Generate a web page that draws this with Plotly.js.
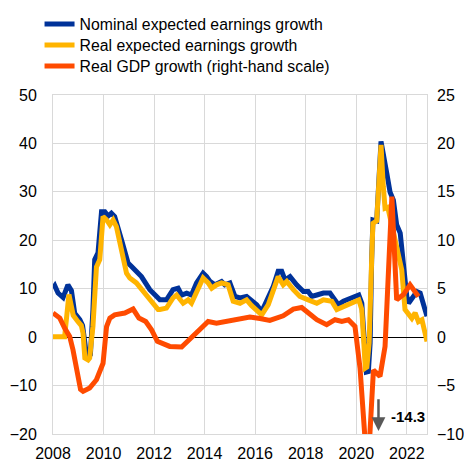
<!DOCTYPE html>
<html>
<head>
<meta charset="utf-8">
<script src="https://cdn.plot.ly/plotly-3.0.1.min.js"></script>
<style>html,body{margin:0;padding:0;background:#fff;}#chart{width:464px;height:461px;}</style>
</head>
<body>
<div id="chart"></div>
<script>
// Nominal expected earnings growth (left scale, %)
const nominalX = [2008.0,2008.07,2008.2,2008.4,2008.59,2008.73,2008.86,2009.06,2009.17,2009.25,2009.32,2009.4,2009.48,2009.58,2009.65,2009.78,2009.92,2010.05,2010.18,2010.31,2010.44,2010.71,2010.97,2011.11,2011.5,2011.83,2012.16,2012.23,2012.49,2012.75,2012.95,2013.09,2013.29,2013.48,2013.68,2013.94,2014.08,2014.21,2014.41,2014.67,2014.8,2015.0,2015.2,2015.4,2015.66,2015.86,2016.06,2016.26,2016.46,2016.72,2016.91,2017.05,2017.18,2017.38,2017.64,2017.91,2018.1,2018.24,2018.44,2018.7,2018.96,2019.16,2019.29,2019.49,2019.76,2020.02,2020.1,2020.22,2020.35,2020.4,2020.48,2020.55,2020.61,2020.66,2020.81,2020.98,2021.21,2021.34,2021.47,2021.6,2021.74,2021.87,2022.0,2022.07,2022.2,2022.4,2022.53,2022.66,2022.8];
const nominalY = [10.1,10.6,9.1,8.2,10.8,9.6,4.9,3.6,2.4,-0.5,-3.5,-4.2,-3.6,5.7,16.0,17.4,25.9,25.9,25.0,25.6,24.9,20.1,15.3,14.6,12.5,9.8,7.9,7.7,7.7,9.8,10.1,8.7,9.1,8.7,11.2,13.2,12.5,11.5,10.8,11.5,10.8,11.2,8.4,8.1,8.4,7.7,6.7,5.3,7.7,10.5,13.6,13.6,11.8,12.5,10.8,9.4,9.4,8.4,8.7,9.1,9.1,7.4,6.7,7.4,8.1,8.7,8.7,7.0,-1.2,-7.2,-7.1,-1.2,16.0,24.2,24.0,40.4,33.8,29.9,28.3,23.2,21.5,14.6,8.4,7.0,8.1,9.4,9.1,7.0,4.3];

// Real expected earnings growth (left scale, %)
const realX = [2008.0,2008.46,2008.63,2008.8,2008.99,2009.12,2009.19,2009.26,2009.39,2009.45,2009.58,2009.72,2009.85,2009.98,2010.12,2010.25,2010.38,2010.51,2010.91,2011.04,2011.3,2011.83,2012.16,2012.23,2012.49,2012.75,2012.89,2013.15,2013.35,2013.48,2013.68,2013.94,2014.14,2014.28,2014.47,2014.67,2014.93,2015.13,2015.4,2015.66,2015.86,2016.12,2016.26,2016.52,2016.72,2016.91,2017.11,2017.25,2017.51,2017.77,2018.1,2018.44,2018.7,2019.03,2019.23,2019.49,2019.76,2020.02,2020.1,2020.22,2020.28,2020.36,2020.42,2020.51,2020.61,2020.66,2020.81,2020.98,2021.07,2021.14,2021.25,2021.42,2021.55,2021.74,2021.8,2021.93,2022.07,2022.2,2022.33,2022.46,2022.6,2022.73,2022.8];
const realY = [0.1,0.1,8.8,4.5,3.2,2.4,0.8,-4.3,-4.7,-4.3,2.2,14.5,16.0,24.9,24.2,23.2,24.2,22.8,13.2,12.2,11.2,7.7,5.7,5.7,6.0,8.1,8.7,7.0,7.7,7.0,9.4,12.2,11.2,10.1,10.8,11.2,10.8,7.4,7.0,7.7,6.5,5.3,4.6,6.7,9.4,12.5,10.8,11.5,9.8,8.4,7.7,7.0,7.7,7.4,5.7,6.3,7.0,7.7,7.7,5.7,-1.2,-6.4,-6.2,-1.2,16.0,23.5,24.0,39.7,31.1,26.6,26.8,22.8,20.4,15.5,13.9,5.7,4.6,3.9,5.0,3.2,3.6,-0.2,-0.9];

// Real GDP growth (right-hand scale, %)
const gdpX = [2008.0,2008.27,2008.46,2008.66,2008.79,2008.93,2009.09,2009.19,2009.45,2009.72,2009.98,2010.12,2010.25,2010.44,2010.84,2011.17,2011.4,2011.67,2011.9,2012.13,2012.62,2013.09,2013.55,2014.14,2014.47,2015.27,2015.79,2016.19,2016.58,2017.11,2017.51,2017.84,2018.1,2018.44,2018.83,2019.16,2019.43,2019.69,2019.95,2020.15,2020.45,2020.68,2020.94,2021.14,2021.41,2021.6,2021.87,2022.13,2022.46];
const gdpY = [2.5,1.97,0.94,0.07,-1.3,-3.4,-5.4,-5.6,-5.25,-4.4,-2.7,1.1,1.97,2.3,2.49,2.9,1.97,1.62,0.76,-0.44,-0.96,-1.02,0.07,1.62,1.45,1.87,2.07,1.92,1.72,2.2,2.9,3.06,2.49,1.8,1.28,1.8,1.62,1.8,1.1,-3.2,-14.3,-3.4,-4.05,-0.96,14.5,3.86,4.4,5.4,4.2];

const xTicks = [2008,2010,2012,2014,2016,2018,2020,2022];
const seriesNames = ['Nominal expected earnings growth','Real expected earnings growth','Real GDP growth (right-hand scale)'];
const troughLabel = '-14.3';

const FONT = 'Arial, "Liberation Sans", sans-serif';
const traces = [
  {x: nominalX, y: nominalY, name: seriesNames[0], type: 'scatter', mode: 'lines',
   line: {color: '#003299', width: 5}, yaxis: 'y', legend: 'legend'},
  {x: realX, y: realY, name: seriesNames[1], type: 'scatter', mode: 'lines',
   line: {color: '#FFB400', width: 5}, yaxis: 'y', legend: 'legend2'},
  {x: gdpX, y: gdpY, name: seriesNames[2], type: 'scatter', mode: 'lines',
   line: {color: '#FF4B00', width: 5}, yaxis: 'y2', legend: 'legend3'}
];

function legendAt(y) {
  return {x: -0.036, xanchor: 'left', y: y, yanchor: 'top',
          font: {family: FONT, size: 15.8, color: '#000000'},
          bgcolor: 'rgba(0,0,0,0)', borderwidth: 0};
}

const layout = {
  width: 464, height: 461,
  margin: {l: 53, r: 37, t: 95, b: 27, pad: 0, autoexpand: false},
  paper_bgcolor: '#ffffff', plot_bgcolor: '#ffffff',
  font: {family: FONT, size: 16, color: '#000000'},
  showlegend: true,
  legend: legendAt(1.259),
  legend2: legendAt(1.197),
  legend3: legendAt(1.135),
  xaxis: {range: [2008, 2022.8], tickvals: xTicks, ticktext: xTicks.map(String),
          showgrid: true, gridcolor: '#d9d9d9', gridwidth: 1,
          showline: true, linecolor: '#d9d9d9', linewidth: 1, mirror: true,
          zeroline: false, ticks: '', ticklabelstandoff: 5, automargin: false,
          tickfont: {family: FONT, size: 16, color: '#000000'}},
  yaxis: {range: [-20, 50], dtick: 10, tick0: 0,
          showgrid: true, gridcolor: '#d9d9d9', gridwidth: 1,
          showline: true, linecolor: '#d9d9d9', linewidth: 1, mirror: true,
          zeroline: true, zerolinecolor: '#000000', zerolinewidth: 1,
          ticks: '', ticklabelstandoff: 12, automargin: false,
          tickfont: {family: FONT, size: 16, color: '#000000'}},
  yaxis2: {range: [-10, 25], dtick: 5, tick0: 0, overlaying: 'y', side: 'right',
           showgrid: false, zeroline: false, showline: false,
           ticks: '', ticklabelstandoff: 9, automargin: false,
           tickfont: {family: FONT, size: 16, color: '#000000'}},
  annotations: [
    {x: 2020.88, y: -19.4, ax: 2020.88, ay: -12.5, xref: 'x', yref: 'y', axref: 'x', ayref: 'y',
     text: '', showarrow: true, arrowhead: 2, arrowsize: 1.1, arrowwidth: 2.5, arrowcolor: '#595959'},
    {x: 2021.3, y: -16.4, xref: 'x', yref: 'y', xanchor: 'left', yanchor: 'middle',
     text: '<b>' + troughLabel + '</b>', showarrow: false,
     font: {family: FONT, size: 15, color: '#000000'}}
  ]
};

Plotly.newPlot('chart', traces, layout, {displayModeBar: false, staticPlot: true});
</script>
</body>
</html>
